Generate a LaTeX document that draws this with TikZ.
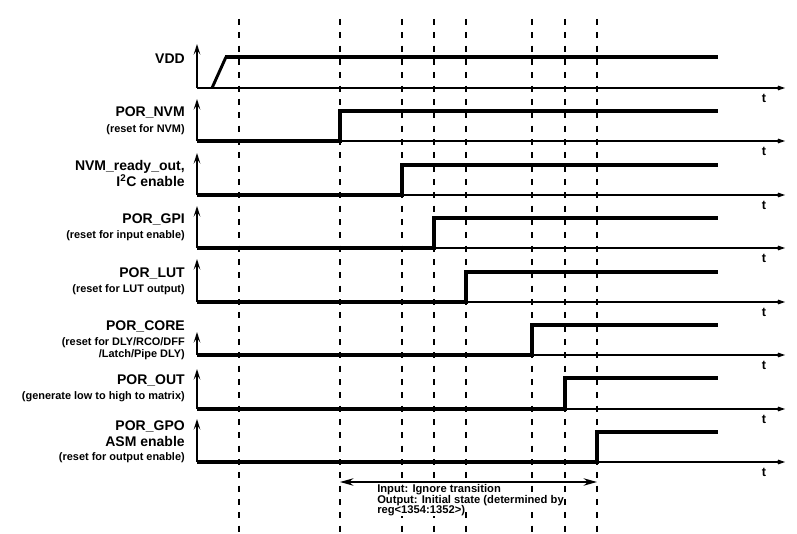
\documentclass[tikz,border=0pt]{standalone}
\usepackage{fontspec}
\setmainfont{Liberation Sans}
\usetikzlibrary{arrows.meta}

\begin{document}
\begin{tikzpicture}[
  x=0.75pt, y=-0.75pt,
  lbl/.style={anchor=base east, inner sep=0pt, font=\fontsize{10.5}{12}\selectfont\bfseries},
  sub/.style={anchor=base east, inner sep=0pt, font=\fontsize{8.2}{9}\selectfont\bfseries},
  tlbl/.style={anchor=base, inner sep=0pt, font=\fontsize{9.5}{10}\selectfont\bfseries},
  note/.style={anchor=base west, inner sep=0pt, fill=white, font=\fontsize{8.4}{9}\selectfont\bfseries},
  grid/.style={line width=0.8pt, dash pattern=on 4.5pt off 5.5pt},
  tax/.style={line width=1.5pt, -{Stealth[length=10pt, width=7pt, inset=6pt]}},
  yax/.style={line width=1.5pt, -{Stealth[length=8pt, width=5pt, inset=3.5pt]}},
  sig/.style={line width=3pt, line join=miter},
  ramp/.style={line width=2.2pt},
  span/.style={line width=1.5pt, {Stealth[length=10pt, width=5.5pt]}-{Stealth[length=10pt, width=5.5pt]}}]
  \useasboundingbox (0,0) rectangle (797,534);
  \def\xo{197}\def\xe{785}\def\xs{718}\def\xl{185}\def\xt{764}
  % Dashed time marks
  \foreach \gx in {239,340,402,434,466,532,565,597}
    \draw[grid] (\gx,19) -- (\gx,534);
  % Axes: origin, top of value axis, end of time axis
  \coordinate (o1) at (\xo,88);  \coordinate (y1) at (\xo,44);  \coordinate (t1) at (\xe,88);
  \coordinate (o2) at (\xo,141); \coordinate (y2) at (\xo,99);  \coordinate (t2) at (\xe,141);
  \coordinate (o3) at (\xo,195); \coordinate (y3) at (\xo,153); \coordinate (t3) at (\xe,195);
  \coordinate (o4) at (\xo,248); \coordinate (y4) at (\xo,206); \coordinate (t4) at (\xe,248);
  \coordinate (o5) at (\xo,302); \coordinate (y5) at (\xo,259); \coordinate (t5) at (\xe,302);
  \coordinate (o6) at (\xo,355); \coordinate (y6) at (\xo,332); \coordinate (t6) at (\xe,355);
  \coordinate (o7) at (\xo,409); \coordinate (y7) at (\xo,369); \coordinate (t7) at (\xe,409);
  \coordinate (o8) at (\xo,462); \coordinate (y8) at (\xo,419); \coordinate (t8) at (\xe,462);
  \draw[tax] (o1) -- (t1); \draw[yax] (o1) -- (y1);
  \draw[tax] (o2) -- (t2); \draw[yax] (o2) -- (y2);
  \draw[tax] (o3) -- (t3); \draw[yax] (o3) -- (y3);
  \draw[tax] (o4) -- (t4); \draw[yax] (o4) -- (y4);
  \draw[tax] (o5) -- (t5); \draw[yax] (o5) -- (y5);
  \draw[tax] (o6) -- (t6); \draw[yax] (o6) -- (y6);
  \draw[tax] (o7) -- (t7); \draw[yax] (o7) -- (y7);
  \draw[tax] (o8) -- (t8); \draw[yax] (o8) -- (y8);
  \node[tlbl] (tt1) at (\xt,103) {t};
  \node[tlbl] (tt2) at (\xt,156) {t};
  \node[tlbl] (tt3) at (\xt,210) {t};
  \node[tlbl] (tt4) at (\xt,263) {t};
  \node[tlbl] (tt5) at (\xt,317) {t};
  \node[tlbl] (tt6) at (\xt,370) {t};
  \node[tlbl] (tt7) at (\xt,424) {t};
  \node[tlbl] (tt8) at (\xt,477) {t};
  % Signals
  \draw[ramp] (212,88) -- (226,57);
  \draw[sig] (225,57) -- (\xs,57);
  \draw[sig] (o2) -- (340,141) -- (340,111) -- (\xs,111);
  \draw[sig] (o3) -- (402,195) -- (402,165) -- (\xs,165);
  \draw[sig] (o4) -- (434,248) -- (434,218) -- (\xs,218);
  \draw[sig] (o5) -- (466,302) -- (466,272) -- (\xs,272);
  \draw[sig] (o6) -- (532,355) -- (532,325) -- (\xs,325);
  \draw[sig] (o7) -- (565,409) -- (565,378) -- (\xs,378);
  \draw[sig] (o8) -- (597,462) -- (597,432) -- (\xs,432);
  % Signal names
  \node[lbl] (nvdd)  at (\xl,64)    {VDD};
  \node[lbl] (nnvm)  at (\xl,117)   {POR\_NVM};
  \node[sub] (snvm)  at (\xl,133)   {(reset for NVM)};
  \node[lbl] (nrdy)  at (\xl,170.5) {NVM\_ready\_out,};
  \node[lbl] (ni2c)  at (\xl,186.5) {I\textsuperscript{2}C enable};
  \node[lbl] (ngpi)  at (\xl,224)   {POR\_GPI};
  \node[sub] (sgpi)  at (\xl,239)   {(reset for input enable)};
  \node[lbl] (nlut)  at (\xl,278)   {POR\_LUT};
  \node[sub] (slut)  at (\xl,293)   {(reset for LUT output)};
  \node[lbl] (ncore) at (\xl,330.5) {POR\_CORE};
  \node[sub] (score) at (\xl,346)   {(reset for DLY/RCO/DFF};
  \node[sub] (spipe) at (\xl,358)   {/Latch/Pipe DLY)};
  \node[lbl] (nout)  at (\xl,385)   {POR\_OUT};
  \node[sub] (sout)  at (\xl,399.5) {(generate low to high to matrix)};
  \node[lbl] (ngpo)  at (\xl,431)   {POR\_GPO};
  \node[lbl] (nasm)  at (\xl,446.5) {ASM enable};
  \node[sub] (sgpo)  at (\xl,461)   {(reset for output enable)};
  % Ignore window
  \coordinate (wa) at (340,482); \coordinate (wb) at (597,482);
  \draw[span] (wa) -- (wb);
  \node[note] (win)  at (377,493)   {Input: Ignore transition};
  \node[note] (wout) at (377,503.5) {Output: Initial state (determined by};
  \node[note] (wreg) at (377,514)   {reg<1354:1352>)};
\end{tikzpicture}
\end{document}
